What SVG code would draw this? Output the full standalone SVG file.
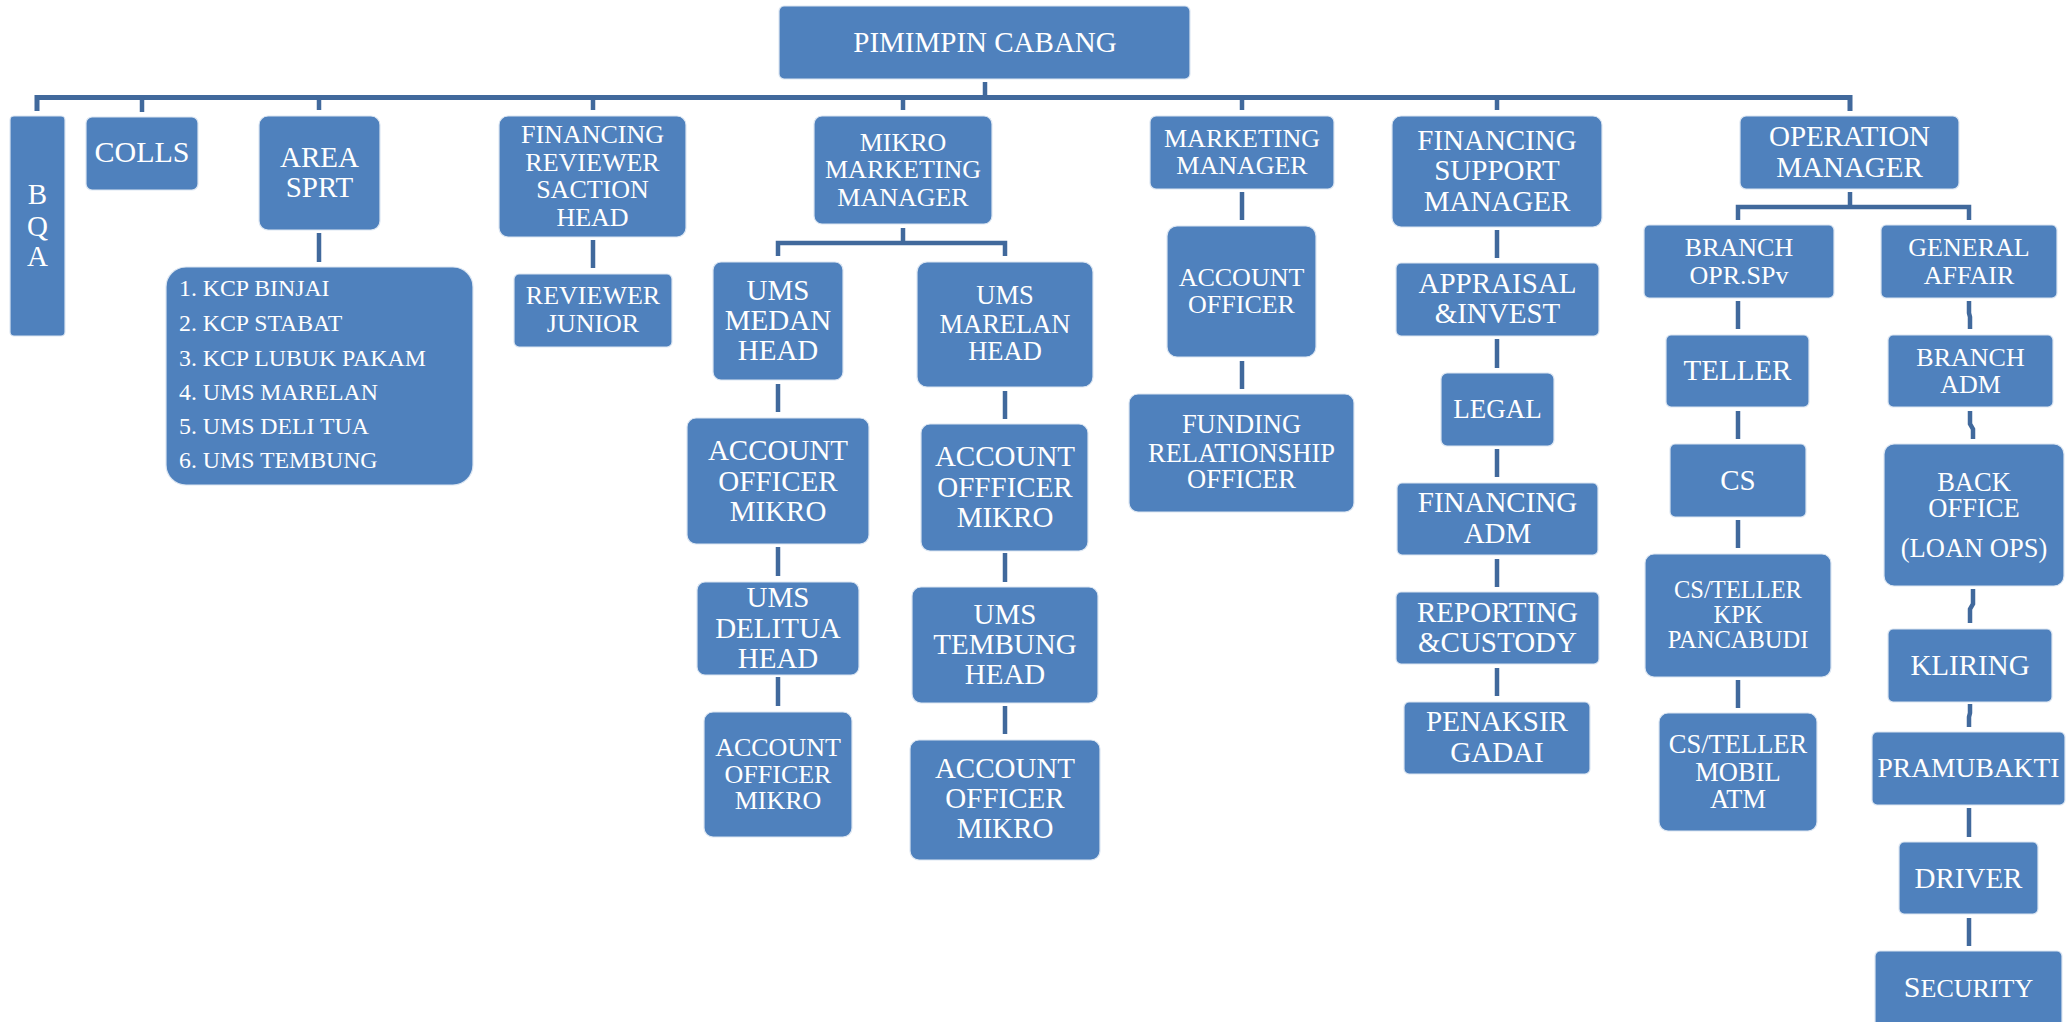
<svg xmlns="http://www.w3.org/2000/svg" width="2066" height="1022" viewBox="0 0 2066 1022">
<style>
.b{fill:#4F81BD;stroke:#DCE6F2;stroke-width:1.2}
.t{fill:#FFFFFF;font-family:"Liberation Serif","Times New Roman",serif;text-anchor:middle}
.l{fill:#FFFFFF;font-family:"Liberation Serif","Times New Roman",serif;text-anchor:start}
.c{fill:none;stroke:#41699C;stroke-width:5}
.d{fill:none;stroke:#41699C;stroke-width:4.5}
</style>
<rect width="2066" height="1022" fill="#FFFFFF"/>
<g id="connectors">
<path class="c" d="M37,111 V97.5 H1850 V111"/>
<path class="d" d="M985,82 V97.5 M142,97.5 V112 M319,97.5 V110 M593,97.5 V110 M903,97.5 V110 M1242,97.5 V110 M1497,97.5 V110"/>
<path class="d" d="M319,233 V262 M593,240 V268"/>
<path class="d" d="M903,228 V243 M778,256 V243 H1005 V256"/>
<path class="d" d="M778,384 V412 M778,547 V576 M778,677 V706"/>
<path class="d" d="M1005,391 V419 M1005,553 V582 M1005,706 V734"/>
<path class="d" d="M1242,192 V220 M1242,361 V389"/>
<path class="d" d="M1497,230 V258 M1497,339 V368 M1497,449 V477 M1497,559 V587 M1497,668 V696"/>
<path class="d" d="M1850,192 V207 M1738,220 V207 H1969 V220"/>
<path class="d" d="M1738,301 V329 M1738,411 V439 M1738,520 V548 M1738,680 V708"/>
<path class="d" d="M1969,301 V313 L1970,317 V329 M1970,411 V424 L1973,429 V439 M1973,589 V604 L1970,609 V623 M1970,704 V713 L1969,717 V727 M1969,808 V837 M1969,918 V946"/>
</g>
<g id="n-pimpinan"><rect class="b" x="779" y="6" width="411" height="73" rx="5"/><text class="t" x="985" y="52" font-size="29">PIMIMPIN CABANG</text></g>
<g id="n-bqa"><rect class="b" x="10" y="116" width="55" height="220" rx="4"/><text class="t" x="37.5" font-size="29"><tspan x="37.5" y="204">B</tspan><tspan x="37.5" y="236">Q</tspan><tspan x="37.5" y="266">A</tspan></text></g>
<g id="n-colls"><rect class="b" x="86" y="117" width="112" height="73" rx="6"/><text class="t" x="142" y="162" font-size="30">COLLS</text></g>
<g id="n-area"><rect class="b" x="259" y="116" width="121" height="114" rx="9"/><text class="t" font-size="29"><tspan x="319.5" y="167">AREA</tspan><tspan x="319.5" y="197">SPRT</tspan></text></g>
<g id="n-kcp"><rect class="b" x="166" y="267" width="307" height="218" rx="20"/><text class="l" font-size="23.8"><tspan x="179" y="296">1. KCP BINJAI</tspan><tspan x="179" y="331">2. KCP STABAT</tspan><tspan x="179" y="366">3. KCP LUBUK PAKAM</tspan><tspan x="179" y="400">4. UMS MARELAN</tspan><tspan x="179" y="434">5. UMS DELI TUA</tspan><tspan x="179" y="468">6. UMS TEMBUNG</tspan></text></g>
<g id="n-finrev"><rect class="b" x="499" y="116" width="187" height="121" rx="9"/><text class="t" font-size="26"><tspan x="592.5" y="143">FINANCING</tspan><tspan x="592.5" y="171">REVIEWER</tspan><tspan x="592.5" y="198">SACTION</tspan><tspan x="592.5" y="226">HEAD</tspan></text></g>
<g id="n-revjr"><rect class="b" x="514" y="274" width="158" height="73" rx="5"/><text class="t" font-size="26"><tspan x="593" y="304">REVIEWER</tspan><tspan x="593" y="332">JUNIOR</tspan></text></g>
<g id="n-mikromm"><rect class="b" x="814" y="116" width="178" height="108" rx="8"/><text class="t" font-size="26"><tspan x="903" y="151">MIKRO</tspan><tspan x="903" y="178">MARKETING</tspan><tspan x="903" y="206">MANAGER</tspan></text></g>
<g id="n-medan"><rect class="b" x="713" y="262" width="130" height="118" rx="8"/><text class="t" font-size="29"><tspan x="778" y="300">UMS</tspan><tspan x="778" y="330">MEDAN</tspan><tspan x="778" y="360">HEAD</tspan></text></g>
<g id="n-aom1"><rect class="b" x="687" y="418" width="182" height="126" rx="9"/><text class="t" font-size="29"><tspan x="778" y="460">ACCOUNT</tspan><tspan x="778" y="491">OFFICER</tspan><tspan x="778" y="521">MIKRO</tspan></text></g>
<g id="n-delitua"><rect class="b" x="697" y="582" width="162" height="93" rx="8"/><text class="t" font-size="29"><tspan x="778" y="607">UMS</tspan><tspan x="778" y="638">DELITUA</tspan><tspan x="778" y="668">HEAD</tspan></text></g>
<g id="n-aom2"><rect class="b" x="704" y="712" width="148" height="125" rx="9"/><text class="t" font-size="26"><tspan x="778" y="756">ACCOUNT</tspan><tspan x="778" y="783">OFFICER</tspan><tspan x="778" y="809">MIKRO</tspan></text></g>
<g id="n-marelan"><rect class="b" x="917" y="262" width="176" height="125" rx="10"/><text class="t" font-size="26.5"><tspan x="1005" y="304">UMS</tspan><tspan x="1005" y="333">MARELAN</tspan><tspan x="1005" y="360">HEAD</tspan></text></g>
<g id="n-aom3"><rect class="b" x="921" y="424" width="167" height="127" rx="9"/><text class="t" font-size="29"><tspan x="1005" y="466">ACCOUNT</tspan><tspan x="1005" y="497">OFFFICER</tspan><tspan x="1005" y="527">MIKRO</tspan></text></g>
<g id="n-tembung"><rect class="b" x="912" y="587" width="186" height="116" rx="9"/><text class="t" font-size="29"><tspan x="1005" y="624">UMS</tspan><tspan x="1005" y="654">TEMBUNG</tspan><tspan x="1005" y="684">HEAD</tspan></text></g>
<g id="n-aom4"><rect class="b" x="910" y="740" width="190" height="120" rx="9"/><text class="t" font-size="29"><tspan x="1005" y="778">ACCOUNT</tspan><tspan x="1005" y="808">OFFICER</tspan><tspan x="1005" y="838">MIKRO</tspan></text></g>
<g id="n-mm"><rect class="b" x="1150" y="116" width="184" height="73" rx="6"/><text class="t" font-size="26"><tspan x="1242" y="147">MARKETING</tspan><tspan x="1242" y="174">MANAGER</tspan></text></g>
<g id="n-ao"><rect class="b" x="1167" y="226" width="149" height="131" rx="10"/><text class="t" font-size="26"><tspan x="1241.5" y="286">ACCOUNT</tspan><tspan x="1241.5" y="313">OFFICER</tspan></text></g>
<g id="n-funding"><rect class="b" x="1129" y="394" width="225" height="118" rx="9"/><text class="t" font-size="26.5"><tspan x="1241.5" y="433">FUNDING</tspan><tspan x="1241.5" y="462">RELATIONSHIP</tspan><tspan x="1241.5" y="488">OFFICER</tspan></text></g>
<g id="n-fsm"><rect class="b" x="1392" y="116" width="210" height="111" rx="9"/><text class="t" font-size="29"><tspan x="1497" y="150">FINANCING</tspan><tspan x="1497" y="180">SUPPORT</tspan><tspan x="1497" y="211">MANAGER</tspan></text></g>
<g id="n-appraisal"><rect class="b" x="1396" y="263" width="203" height="73" rx="5"/><text class="t" font-size="29"><tspan x="1497.5" y="293">APPRAISAL</tspan><tspan x="1497.5" y="323">&amp;INVEST</tspan></text></g>
<g id="n-legal"><rect class="b" x="1441" y="373" width="113" height="73" rx="6"/><text class="t" x="1497.5" y="418" font-size="27">LEGAL</text></g>
<g id="n-finadm"><rect class="b" x="1397" y="483" width="201" height="72" rx="5"/><text class="t" font-size="29"><tspan x="1497.5" y="512">FINANCING</tspan><tspan x="1497.5" y="543">ADM</tspan></text></g>
<g id="n-reporting"><rect class="b" x="1396" y="592" width="203" height="72" rx="5"/><text class="t" font-size="29"><tspan x="1497.5" y="622">REPORTING</tspan><tspan x="1497.5" y="652">&amp;CUSTODY</tspan></text></g>
<g id="n-penaksir"><rect class="b" x="1404" y="702" width="186" height="72" rx="5"/><text class="t" font-size="29"><tspan x="1497" y="731">PENAKSIR</tspan><tspan x="1497" y="762">GADAI</tspan></text></g>
<g id="n-om"><rect class="b" x="1740" y="116" width="219" height="73" rx="6"/><text class="t" font-size="29"><tspan x="1849.5" y="146">OPERATION</tspan><tspan x="1849.5" y="177">MANAGER</tspan></text></g>
<g id="n-bos"><rect class="b" x="1644" y="225" width="190" height="73" rx="5"/><text class="t" font-size="26"><tspan x="1739" y="256">BRANCH</tspan><tspan x="1739" y="284">OPR.SPv</tspan></text></g>
<g id="n-ga"><rect class="b" x="1881" y="225" width="176" height="73" rx="5"/><text class="t" font-size="26"><tspan x="1969" y="256">GENERAL</tspan><tspan x="1969" y="284">AFFAIR</tspan></text></g>
<g id="n-teller"><rect class="b" x="1666" y="335" width="143" height="72" rx="5"/><text class="t" x="1737.5" y="380" font-size="29">TELLER</text></g>
<g id="n-cs"><rect class="b" x="1670" y="444" width="136" height="73" rx="5"/><text class="t" x="1738" y="490" font-size="29">CS</text></g>
<g id="n-kpk"><rect class="b" x="1645" y="554" width="186" height="123" rx="9"/><text class="t" font-size="24.5"><tspan x="1738" y="598">CS/TELLER</tspan><tspan x="1738" y="623">KPK</tspan><tspan x="1738" y="648">PANCABUDI</tspan></text></g>
<g id="n-mobil"><rect class="b" x="1659" y="713" width="158" height="118" rx="9"/><text class="t" font-size="26.5"><tspan x="1738" y="753">CS/TELLER</tspan><tspan x="1738" y="781">MOBIL</tspan><tspan x="1738" y="808">ATM</tspan></text></g>
<g id="n-badm"><rect class="b" x="1888" y="335" width="165" height="72" rx="5"/><text class="t" font-size="26"><tspan x="1970.5" y="366">BRANCH</tspan><tspan x="1970.5" y="393">ADM</tspan></text></g>
<g id="n-backoffice"><rect class="b" x="1884" y="444" width="180" height="142" rx="10"/><text class="t" font-size="26.5"><tspan x="1974" y="491">BACK</tspan><tspan x="1974" y="517">OFFICE</tspan><tspan x="1974" y="557">(LOAN OPS)</tspan></text></g>
<g id="n-kliring"><rect class="b" x="1888" y="629" width="164" height="73" rx="5"/><text class="t" x="1970" y="675" font-size="29">KLIRING</text></g>
<g id="n-pramubakti"><rect class="b" x="1872" y="732" width="193" height="73" rx="5"/><text class="t" x="1968.5" y="777" font-size="27.5">PRAMUBAKTI</text></g>
<g id="n-driver"><rect class="b" x="1899" y="842" width="139" height="72" rx="5"/><text class="t" x="1968.5" y="888" font-size="29">DRIVER</text></g>
<g id="n-security"><rect class="b" x="1875" y="951" width="187" height="80" rx="5"/><text class="t" x="1968.5" y="997" font-size="26"><tspan font-size="30">S</tspan>ECURITY</text></g>
</svg>
